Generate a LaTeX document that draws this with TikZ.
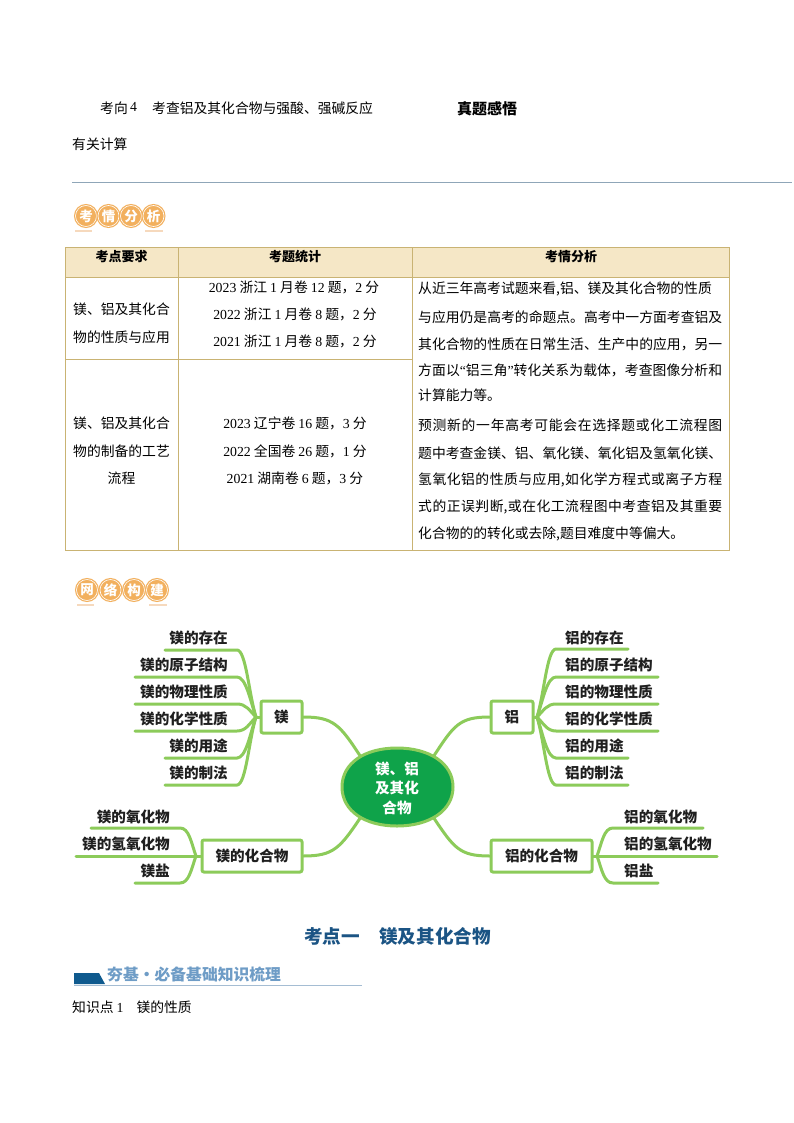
\documentclass[tikz,border=0pt]{standalone}
\usepackage{fontspec}
\setmainfont{Noto Sans CJK SC}
\newfontfamily\latf{Liberation Serif}
\usetikzlibrary{shapes.geometric}
\definecolor{mapgreen}{HTML}{8CCB5A}
\definecolor{hubgreen}{HTML}{0FA34A}
\definecolor{tabline}{HTML}{C9B373}
\definecolor{tabhead}{HTML}{F5E7C6}
\definecolor{rulegrey}{HTML}{8FA6B8}
\definecolor{badge}{HTML}{F2B05E}
\definecolor{badgetick}{HTML}{F6D9BD}
\definecolor{headblue}{HTML}{1B5484}
\definecolor{bandblue}{HTML}{0F5A8E}
\definecolor{softblue}{HTML}{6E9CC6}
\definecolor{softrule}{HTML}{A5BDD3}
\XeTeXlinebreaklocale "zh"
\XeTeXlinebreakskip=0pt plus 3pt
\newcommand{\jline}[1]{\parbox{304pt}{\parfillskip=0pt\noindent #1}}
\newcommand{\num}[1]{{\latf #1}}
\tikzset{
  txt/.style={inner sep=0pt,font=\fontsize{13.8}{16}\selectfont,text height=12.5pt,text depth=1.5pt},
  hd/.style={txt,font=\fontsize{13}{16}\bfseries\selectfont},
  maplab/.style={inner sep=0pt,font=\fontsize{14.6}{17}\bfseries\selectfont,text=black!88,text height=12pt,text depth=1.5pt},
  mapbox/.style={draw=mapgreen,line width=3pt,rounded corners=2pt,fill=white,inner sep=0pt,font=\fontsize{14.6}{17}\bfseries\selectfont,text=black!88,minimum height=32pt,text height=12pt,text depth=1.5pt},
  br/.style={draw=mapgreen,line width=3pt,line cap=round},
  tabl/.style={draw=tabline,line width=.9pt},
  bcirc/.style={circle,fill=badge,draw=badge,line width=1.2pt,double=white,double distance=.6pt,minimum size=21pt,inner sep=0pt,text=white,font=\fontsize{13.5}{14}\bfseries\selectfont},
  tick/.style={draw=badgetick,line width=2.2pt}
}
% name, free end x, y, corner x, control 1 dx, control 2 x, control 2 y
\newcommand{\twig}[7]{%
  \coordinate (#1-e) at (#2,#3);
  \coordinate (#1-c) at (#4,#3);
  \draw[br] (#1-e) -- (#1-c) .. controls +(#5,0) and (#6,#7) .. (hub#1);
}
\begin{document}
\begin{tikzpicture}[x=1pt,y=-1pt]
\useasboundingbox[fill=white] (0,0) rectangle (794,1123);
% head texts
\node[txt,anchor=west] (k4) at (100,108) {考向\,\raisebox{1.5pt}{\num{4}}};
\node[txt,anchor=west] (k4t) at (152,108) {考查铝及其化合物与强酸、强碱反应};
\node[txt,anchor=west,font=\fontsize{15}{17}\bfseries\selectfont] (zt) at (457,109) {真题感悟};
\node[txt,anchor=west] (yg) at (72,144) {有关计算};
\coordinate (ruleL) at (72,182.5);
\coordinate (ruleR) at (792,182.5);
\draw[rulegrey,line width=.8pt] (ruleL) -- (ruleR);
% badge 1
\foreach \n/\cx/\t in {a/86/考,b/108.5/情,c/131/分,d/153.5/析}{\node[bcirc] (bd\n) at (\cx,216) {\t};}
\draw[tick] (75,231) -- (92,231);
\draw[tick] (145,231) -- (163,231);
% table
\fill[tabhead] (65,247) rectangle (729,277);
\draw[tabl] (65,247) rectangle (729,550);
\draw[tabl] (65,277) -- (729,277);
\draw[tabl] (178,247) -- (178,550);
\draw[tabl] (412,247) -- (412,550);
\draw[tabl] (65,359.5) -- (412,359.5);
\node[hd] (h1) at (121.5,255.5) {考点要求};
\node[hd] (h2) at (295,255.5) {考题统计};
\node[hd] (h3) at (571,255.5) {考情分析};
\node[txt] (c1a) at (121.5,309) {镁、铝及其化合};
\node[txt] (c1b) at (121.5,337) {物的性质与应用};
\node[txt] (c2a) at (121.5,423) {镁、铝及其化合};
\node[txt] (c2b) at (121.5,451) {物的制备的工艺};
\node[txt] (c2c) at (121.5,478) {流程};
\node[txt] (s1) at (294,287) {\num{2023} 浙江 \num{1} 月卷 \num{12} 题，\num{2} 分};
\node[txt] (s2) at (295,314) {\num{2022} 浙江 \num{1} 月卷 \num{8} 题，\num{2} 分};
\node[txt] (s3) at (295,341) {\num{2021} 浙江 \num{1} 月卷 \num{8} 题，\num{2} 分};
\node[txt] (s4) at (295,423) {\num{2023} 辽宁卷 \num{16} 题，\num{3} 分};
\node[txt] (s5) at (295,451) {\num{2022} 全国卷 \num{26} 题，\num{1} 分};
\node[txt] (s6) at (295,478) {\num{2021} 湖南卷 \num{6} 题，\num{3} 分};
\node[txt,anchor=west] (a1) at (418,288) {从近三年高考试题来看,铝、镁及其化合物的性质};
\node[txt,anchor=west] (a2) at (418,315) {\jline{与应用仍是高考的命题点。高考中一方面考查铝及}};
\node[txt,anchor=west] (a3) at (418,342) {\jline{其化合物的性质在日常生活、生产中的应用，另一}};
\node[txt,anchor=west] (a4) at (418,368) {\jline{方面以\num{“}铝三角\num{”}转化关系为载体，考查图像分析和}};
\node[txt,anchor=west] (a5) at (418,395) {计算能力等。};
\node[txt,anchor=west] (a6) at (418,423) {\jline{预测新的一年高考可能会在选择题或化工流程图}};
\node[txt,anchor=west] (a7) at (418,451) {\jline{题中考查金镁、铝、氧化镁、氧化铝及氢氧化镁、}};
\node[txt,anchor=west] (a8) at (418,478) {\jline{氢氧化铝的性质与应用,如化学方程式或离子方程}};
\node[txt,anchor=west] (a9) at (418,505) {\jline{式的正误判断,或在化工流程图中考查铝及其重要}};
\node[txt,anchor=west] (a10) at (418,533) {化合物的的转化或去除,题目难度中等偏大。};
% badge 2
\foreach \n/\cx/\t in {a/87/网,b/110.5/络,c/134/构,d/157/建}{\node[bcirc] (be\n) at (\cx,590) {\t};}
\draw[tick] (77,605) -- (94,605);
\draw[tick] (149,605) -- (167,605);
% centre outline (anchors for connectors)
\node[ellipse,minimum width=113pt,minimum height=80pt,inner sep=0pt] (hub) at (397,787) {};
% boxes
\node[mapbox,minimum width=41pt] (mg) at (281.5,717) {镁};
\node[mapbox,minimum width=100pt] (mgc) at (252,856) {镁的化合物};
\node[mapbox,minimum width=42pt] (al) at (512,717) {铝};
\node[mapbox,minimum width=101pt] (alc) at (541.5,856) {铝的化合物};
\coordinate (hma) at (256,717);
\coordinate (hmb) at (197,856);
\coordinate (haa) at (537,717);
\coordinate (hab) at (597,856);
\draw[br] (mg.east) .. controls +(30,0) and (340,725) .. (hub.140);
\draw[br] (mgc.east) .. controls +(30,0) and (340,848) .. (hub.220);
\draw[br] (al.west) .. controls +(-30,0) and (454,725) .. (hub.40);
\draw[br] (alc.west) .. controls +(-30,0) and (454,848) .. (hub.320);
\draw[br] (mg.west) -- (hma);
\draw[br] (mgc.west) -- (hmb);
\draw[br] (al.east) -- (haa);
\draw[br] (alc.east) -- (hab);
% centre body, fuller than a true ellipse
\filldraw[draw=mapgreen,line width=3pt,fill=hubgreen] (342,787) .. controls (342,763) and (365,748) .. (397,748) .. controls (429,748) and (453,763) .. (453,787) .. controls (453,811) and (429,826) .. (397,826) .. controls (365,826) and (342,811) .. (342,787) -- cycle;
\node[inner sep=0pt,align=center,text=white,font=\fontsize{14.6}{19.5}\bfseries\selectfont] (hubtext) at (397,788) {镁、铝\\及其化\\合物};
% left twigs
\coordinate (hubma) at (256,717);\twig{ma}{165}{650}{237}{9}{249}{695}
\coordinate (hubmb) at (256,717);\twig{mb}{135}{677}{237}{9}{250}{700}
\coordinate (hubmc) at (256,717);\twig{mc}{135}{704}{237}{9}{249}{710}
\coordinate (hubmd) at (256,717);\twig{md}{135}{731}{237}{9}{249}{724}
\coordinate (hubme) at (256,717);\twig{me}{165}{758}{237}{9}{250}{734}
\coordinate (hubmf) at (256,717);\twig{mf}{165}{785}{237}{9}{249}{739}
\coordinate (hubna) at (196,856);\twig{na}{91}{828}{180}{9}{191}{842}
\coordinate (hubnb) at (196,856);\twig{nb}{76}{856}{180}{5}{190}{856}
\coordinate (hubnc) at (196,856);\twig{nc}{135}{883}{180}{9}{191}{870}
% right twigs
\coordinate (hubaa) at (537,717);\twig{aa}{628}{649}{556}{-9}{544}{695}
\coordinate (hubab) at (537,717);\twig{ab}{658}{677}{556}{-9}{543}{700}
\coordinate (hubac) at (537,717);\twig{ac}{658}{704}{556}{-9}{544}{710}
\coordinate (hubad) at (537,717);\twig{ad}{658}{731}{556}{-9}{544}{724}
\coordinate (hubae) at (537,717);\twig{ae}{628}{758}{556}{-9}{543}{734}
\coordinate (hubaf) at (537,717);\twig{af}{628}{785}{556}{-9}{544}{739}
\coordinate (hubba) at (597,856);\twig{ba}{703}{828}{613}{-9}{602}{842}
\coordinate (hubbb) at (597,856);\twig{bb}{717}{856}{613}{-5}{603}{856}
\coordinate (hubbc) at (597,856);\twig{bc}{658}{883}{613}{-9}{602}{870}
% left labels
\node[maplab,anchor=east] (lma) at (228,638) {镁的存在};
\node[maplab,anchor=east] (lmb) at (228,665) {镁的原子结构};
\node[maplab,anchor=east] (lmc) at (228,692) {镁的物理性质};
\node[maplab,anchor=east] (lmd) at (228,719) {镁的化学性质};
\node[maplab,anchor=east] (lme) at (228,746) {镁的用途};
\node[maplab,anchor=east] (lmf) at (228,773) {镁的制法};
\node[maplab,anchor=east] (lna) at (170,817) {镁的氧化物};
\node[maplab,anchor=east] (lnb) at (170,844) {镁的氢氧化物};
\node[maplab,anchor=east] (lnc) at (170,871) {镁盐};
% right labels
\node[maplab,anchor=west] (laa) at (565,638) {铝的存在};
\node[maplab,anchor=west] (lab) at (565,665) {铝的原子结构};
\node[maplab,anchor=west] (lac) at (565,692) {铝的物理性质};
\node[maplab,anchor=west] (lad) at (565,719) {铝的化学性质};
\node[maplab,anchor=west] (lae) at (565,746) {铝的用途};
\node[maplab,anchor=west] (laf) at (565,773) {铝的制法};
\node[maplab,anchor=west] (lba) at (624,817) {铝的氧化物};
\node[maplab,anchor=west] (lbb) at (624,844) {铝的氢氧化物};
\node[maplab,anchor=west] (lbc) at (624,871) {铝盐};
% bottom
\node[txt,anchor=west,text=headblue,font=\fontsize{18.6}{20}\bfseries\selectfont] (t1a) at (304,938) {考点一};
\node[txt,anchor=west,text=headblue,font=\fontsize{18.6}{20}\bfseries\selectfont] (t1b) at (379,938) {镁及其化合物};
\fill[bandblue] (74,973) -- (99,973) -- (105,984) -- (74,984) -- cycle;
\node[txt,anchor=west,text=softblue,font=\fontsize{15.8}{18}\bfseries\selectfont] (jc) at (107,975) {夯基·必备基础知识梳理};
\coordinate (bL) at (74,985.5);
\coordinate (bR) at (362,985.5);
\draw[softrule,line width=.9pt] (bL) -- (bR);
\node[txt,anchor=west] (zs) at (72,1007) {知识点 \num{1}\hspace{13pt}镁的性质};
\end{tikzpicture}
\end{document}
